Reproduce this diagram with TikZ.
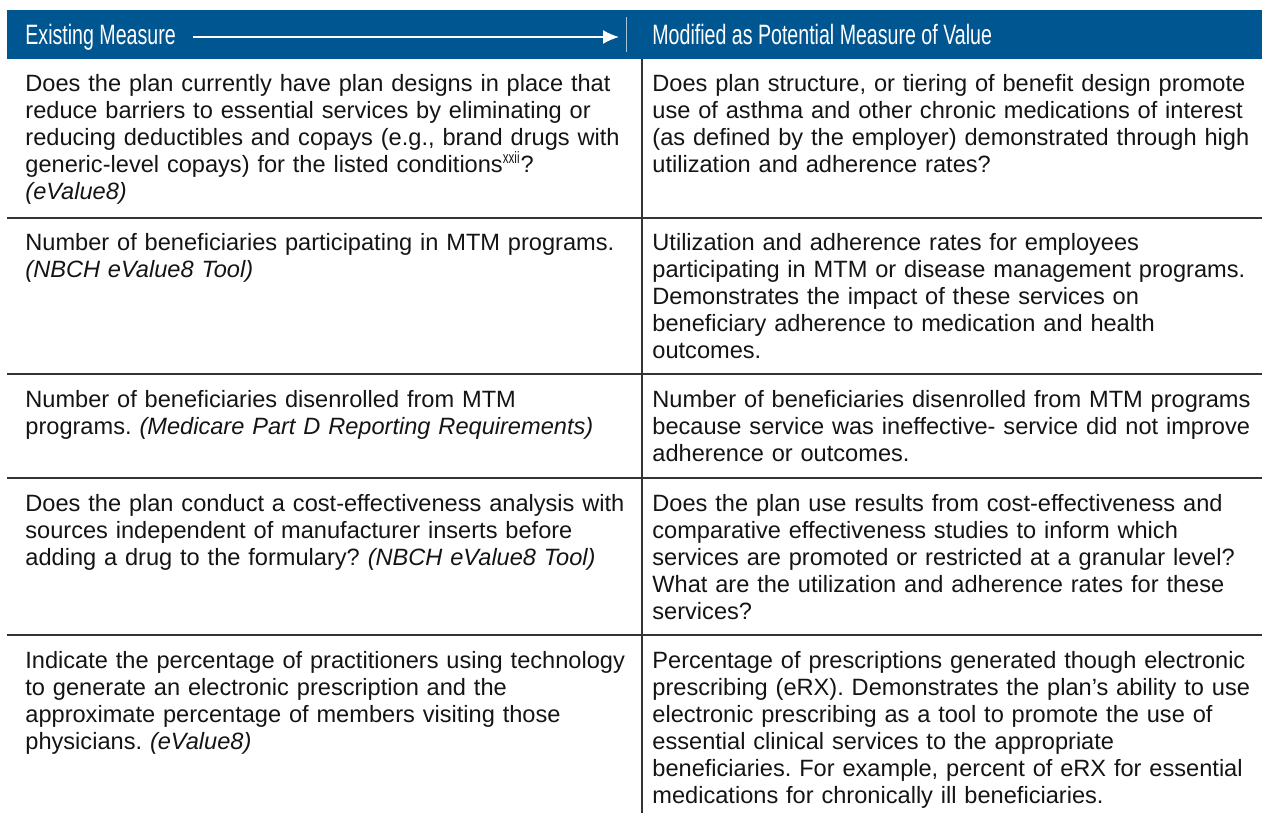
\documentclass[tikz,border=0pt]{standalone}
\usepackage{fontspec}
\setmainfont{Liberation Sans}
\newfontfamily\narrowfont[FakeStretch=0.7]{Liberation Sans}
\usetikzlibrary{arrows.meta}
\frenchspacing
\definecolor{headblue}{RGB}{0,86,145}
\colorlet{rulegray}{black!80}
\colorlet{bodytext}{black!92}
\tikzset{
  head/.style={anchor=base west,inner sep=0pt,text=white,
    font=\narrowfont\fontsize{14}{15}\selectfont},
  cell/.style={anchor=base west,inner sep=0pt,text width=330pt,align=left,
    text=bodytext,font=\fontsize{11.8}{13.5}\selectfont},
  rule/.style={draw=rulegray,line width=0.6pt},
  flow/.style={-{Latex[length=8pt,width=7pt]},draw=white,line width=0.9pt},
}
\newcommand{\src}[1]{\textit{#1}}

\begin{document}
\begin{tikzpicture}[x=0.5pt,y=-0.5pt]
  \useasboundingbox (0,0) rectangle (1262,813);

  % header band
  \fill [headblue] (7,10) rectangle (1262,59);
  \draw [white!65!headblue,line width=0.5pt] (626,17) -- (626,52);
  \node [head] at (25,45) (hleft) {Existing Measure};
  \node [head] at (652,45) (hright) {Modified as Potential Measure of Value};
  \coordinate (astart) at (193,37);
  \coordinate (aend) at (619,37);
  \draw [flow] (astart) -- (aend);

  % grid
  \draw [rule] (642,59) -- (642,813);
  \foreach \y in {218,374,478,635}
  {
    \draw [rule] (7,\y) -- (1262,\y);
  }

  % row 1
  \node [cell] at (25,91) (l1) {Does the plan currently have plan designs in place that\\
    reduce barriers to essential services by eliminating or\\
    reducing deductibles and copays (e.g., brand drugs with\\
    generic-level copays) for the listed conditions\textsuperscript{\narrowfont xxii}?\\
    \src{(eValue8)}};
  \node [cell] at (652,91) (r1) {Does plan structure, or tiering of benefit design promote\\
    use of asthma and other chronic medications of interest\\
    (as defined by the employer) demonstrated through high\\
    utilization and adherence rates?};

  % row 2
  \node [cell] at (25,250) (l2) {Number of beneficiaries participating in MTM programs.\\
    \src{(NBCH eValue8 Tool)}};
  \node [cell] at (652,250) (r2) {Utilization and adherence rates for employees\\
    participating in MTM or disease management programs.\\
    Demonstrates the impact of these services on\\
    beneficiary adherence to medication and health\\
    outcomes.};

  % row 3
  \node [cell] at (25,407) (l3) {Number of beneficiaries disenrolled from MTM\\
    programs. \src{(Medicare Part D Reporting Requirements)}};
  \node [cell] at (652,407) (r3) {Number of beneficiaries disenrolled from MTM programs\\
    because service was ineffective- service did not improve\\
    adherence or outcomes.};

  % row 4
  \node [cell] at (25,511) (l4) {Does the plan conduct a cost-effectiveness analysis with\\
    sources independent of manufacturer inserts before\\
    adding a drug to the formulary? \src{(NBCH eValue8 Tool)}};
  \node [cell] at (652,511) (r4) {Does the plan use results from cost-effectiveness and\\
    comparative effectiveness studies to inform which\\
    services are promoted or restricted at a granular level?\\
    What are the utilization and adherence rates for these\\
    services?};

  % row 5
  \node [cell] at (25,668) (l5) {Indicate the percentage of practitioners using technology\\
    to generate an electronic prescription and the\\
    approximate percentage of members visiting those\\
    physicians. \src{(eValue8)}};
  \node [cell] at (652,668) (r5) {Percentage of prescriptions generated though electronic\\
    prescribing (eRX). Demonstrates the plan’s ability to use\\
    electronic prescribing as a tool to promote the use of\\
    essential clinical services to the appropriate\\
    beneficiaries. For example, percent of eRX for essential\\
    medications for chronically ill beneficiaries.};
\end{tikzpicture}
\end{document}
